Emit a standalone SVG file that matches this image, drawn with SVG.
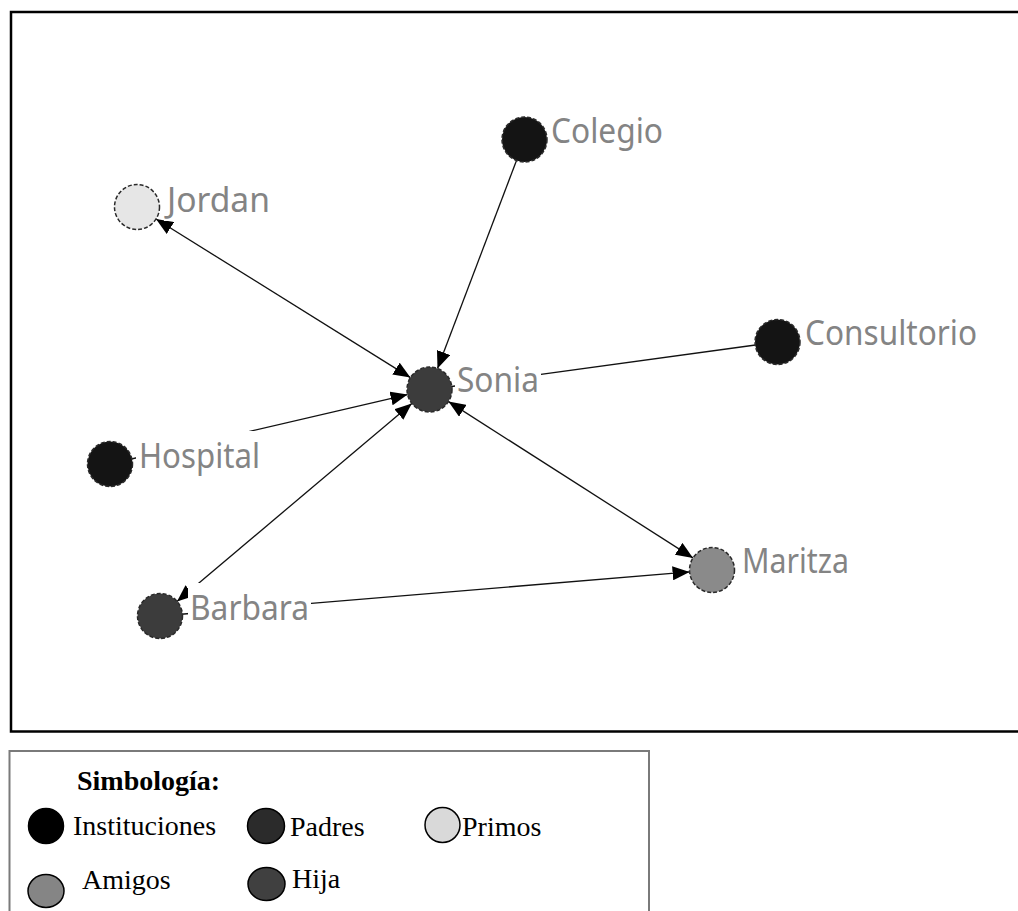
<svg xmlns="http://www.w3.org/2000/svg" width="1018" height="911" viewBox="0 0 1018 911">
  <defs>
    <marker id="arrow" markerUnits="userSpaceOnUse" markerWidth="18" markerHeight="14" refX="17" refY="7" orient="auto-start-reverse">
      <path d="M0,0 L17,7 L0,14 z" fill="#000"/>
    </marker>
    <style>
      .edge { stroke: #111; stroke-width: 1.3; fill: none; }
      .node { stroke: #2a2a2a; stroke-width: 1.5; stroke-dasharray: 4 2; }
      .inst { fill: #141414; }
      .hija { fill: #3c3c3c; }
      .prim { fill: #e6e6e6; }
      .amig { fill: #8a8a8a; }
      .lbl-bg { fill: #fff; }
      .lbl { font-family: "Noto Sans", "DejaVu Sans", sans-serif; font-size: 34px; fill: #848484; }
      .leg { font-family: "Liberation Serif", "Times New Roman", serif; font-size: 28px; fill: #000; }
      .leg-dot { stroke: #000; stroke-width: 1.5; }
    </style>
  </defs>

  <rect width="1018" height="911" fill="#fff"/>

  <!-- network frame (right side runs off the page) -->
  <path d="M1018,12 H11 V731.5 H1018" fill="none" stroke="#000" stroke-width="2.5"/>

  <!-- connectors -->
  <g id="connectors">
    <line class="edge" x1="156" y1="219" x2="410.4" y2="377.6" marker-start="url(#arrow)" marker-end="url(#arrow)"/>
    <line class="edge" x1="516.5" y1="160.5" x2="437.5" y2="368.5" marker-end="url(#arrow)"/>
    <line class="edge" x1="429.5" y1="389.5" x2="755.5" y2="345"/>
    <line class="edge" x1="110" y1="464" x2="407.6" y2="394.6" marker-end="url(#arrow)"/>
    <line class="edge" x1="177" y1="601.5" x2="411.8" y2="403.5" marker-start="url(#arrow)" marker-end="url(#arrow)"/>
    <line class="edge" x1="448.5" y1="401.6" x2="693" y2="557.9" marker-start="url(#arrow)" marker-end="url(#arrow)"/>
    <line class="edge" x1="160" y1="616" x2="689.6" y2="571.9" marker-end="url(#arrow)"/>
  </g>

  <!-- nodes: circle plus label on a white plate -->
  <g id="node-colegio">
    <circle class="node inst" cx="524.5" cy="139.5" r="22.5"/>
    <rect class="lbl-bg" x="548" y="106" width="117" height="47"/>
    <text class="lbl" x="551" y="143" textLength="112" lengthAdjust="spacingAndGlyphs">Colegio</text>
  </g>
  <g id="node-jordan">
    <circle class="node prim" cx="137" cy="207" r="22.5"/>
    <rect class="lbl-bg" x="164" y="174" width="109" height="47"/>
    <text class="lbl" x="167" y="211.5" textLength="103" lengthAdjust="spacingAndGlyphs">Jordan</text>
  </g>
  <g id="node-consultorio">
    <circle class="node inst" cx="777.5" cy="342" r="22.5"/>
    <rect class="lbl-bg" x="802" y="308" width="177" height="47"/>
    <text class="lbl" x="805" y="345" textLength="172" lengthAdjust="spacingAndGlyphs">Consultorio</text>
  </g>
  <g id="node-sonia">
    <circle class="node hija" cx="429.5" cy="389.5" r="22.5"/>
    <rect class="lbl-bg" x="455" y="355" width="86" height="46"/>
    <text class="lbl" x="457" y="391.5" textLength="82" lengthAdjust="spacingAndGlyphs">Sonia</text>
  </g>
  <g id="node-hospital">
    <circle class="node inst" cx="110" cy="464" r="22.5"/>
    <rect class="lbl-bg" x="136" y="431" width="126" height="47"/>
    <text class="lbl" x="139" y="468" textLength="121" lengthAdjust="spacingAndGlyphs">Hospital</text>
  </g>
  <g id="node-barbara">
    <circle class="node hija" cx="160" cy="616" r="22.5"/>
    <rect class="lbl-bg" x="188" y="583" width="123" height="47"/>
    <text class="lbl" x="190" y="620" textLength="119" lengthAdjust="spacingAndGlyphs">Barbara</text>
  </g>
  <g id="node-maritza">
    <circle class="node amig" cx="712" cy="570" r="22.5"/>
    <rect class="lbl-bg" x="739" y="536" width="112" height="47"/>
    <text class="lbl" x="742" y="572.5" textLength="107" lengthAdjust="spacingAndGlyphs">Maritza</text>
  </g>

  <!-- legend -->
  <g id="legend">
    <path d="M9.5,915 V751 H649 V915" fill="none" stroke="#7a7a7a" stroke-width="2"/>
    <text class="leg" x="77" y="790" font-weight="bold">Simbología:</text>
    <ellipse class="leg-dot" cx="46" cy="826" rx="17.5" ry="17.5" fill="#000"/>
    <text class="leg" x="73" y="835">Instituciones</text>
    <ellipse class="leg-dot" cx="266" cy="826" rx="18.5" ry="17.5" fill="#2b2b2b"/>
    <text class="leg" x="290" y="836">Padres</text>
    <ellipse class="leg-dot" cx="442.5" cy="825" rx="17.5" ry="17.5" fill="#d9d9d9"/>
    <text class="leg" x="462" y="836">Primos</text>
    <ellipse class="leg-dot" cx="46" cy="891" rx="18" ry="16.5" fill="#858585"/>
    <text class="leg" x="82" y="889">Amigos</text>
    <ellipse class="leg-dot" cx="266.5" cy="884" rx="18.5" ry="16.5" fill="#404040"/>
    <text class="leg" x="292" y="888">Hija</text>
  </g>
</svg>
